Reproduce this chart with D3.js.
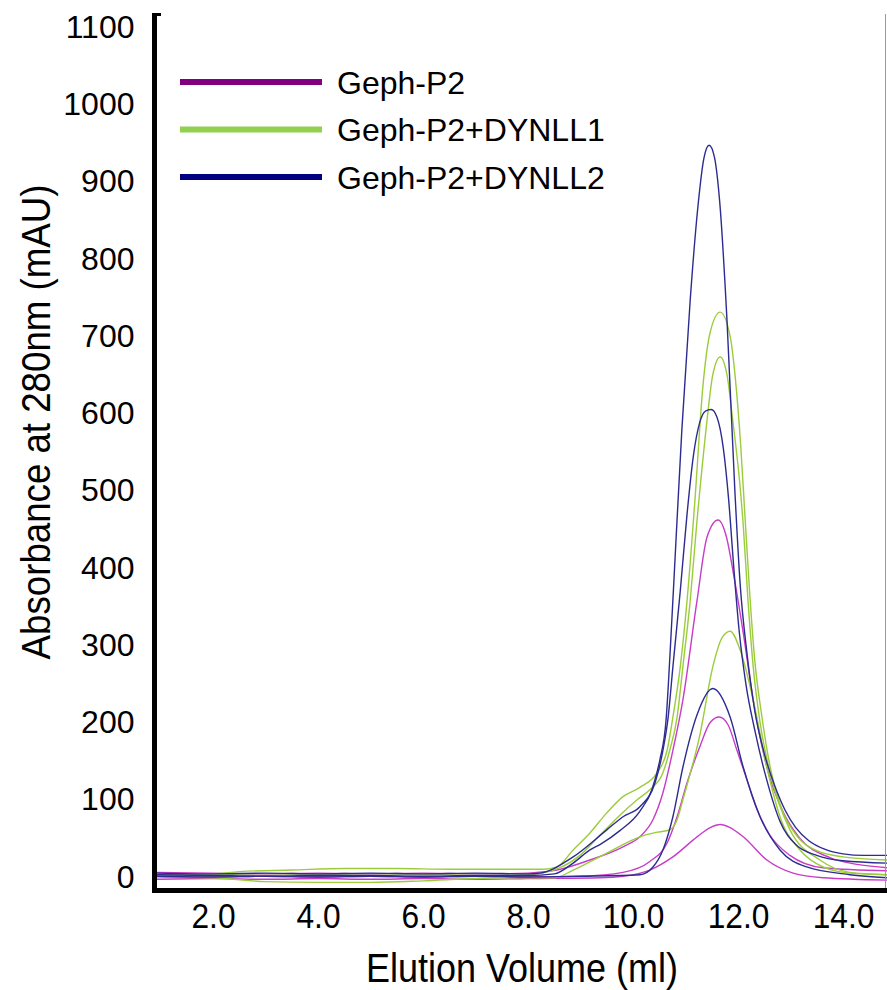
<!DOCTYPE html>
<html>
<head>
<meta charset="utf-8">
<script src="https://cdn.jsdelivr.net/npm/d3@7"></script>
<style>
  html, body { margin: 0; padding: 0; background: #ffffff; }
  svg { display: block; }
  text { font-family: "Liberation Sans", Arial, sans-serif; fill: #000; }
</style>
</head>
<body>
<svg id="chart" width="887" height="990"></svg>
<script>
// Size-exclusion chromatograms: absorbance at 280 nm vs elution volume.
// Each sample was run at three loadings, giving three traces per sample.

const seriesNames = ["Geph-P2", "Geph-P2+DYNLL1", "Geph-P2+DYNLL2"];
const xTicks = [2, 4, 6, 8, 10, 12, 14];
const yTicks = [0, 100, 200, 300, 400, 500, 600, 700, 800, 900, 1000, 1100];

// [elution volume (ml), absorbance (mAU)]
const gephP2High = [
  [0.9, 6], [2, 5], [3, 4], [4, 5], [5, 4], [6, 5], [7, 4], [8, 5], [8.55, 9],
  [9.18, 22], [9.81, 39], [10.13, 52], [10.38, 74], [10.57, 109], [10.76, 164],
  [10.95, 229], [11.22, 358], [11.41, 440], [11.62, 462], [11.78, 440], [11.92, 390],
  [12.1, 316], [12.29, 229], [12.55, 142], [12.86, 84], [13.18, 50], [13.75, 25],
  [14.3, 16], [14.84, 12]
];
const gephP2Mid = [
  [0.9, 1], [2, 0], [3, 1], [4, 0], [5, 1], [6, 0], [7, 1], [8, 0], [9, 1],
  [9.81, 6], [10.32, 20], [10.65, 44], [10.84, 78], [11.03, 122], [11.28, 170],
  [11.47, 200], [11.64, 207], [11.81, 197], [11.98, 164], [12.17, 126], [12.36, 88],
  [12.6, 55], [12.99, 28], [13.62, 12], [14.84, 8]
];
const gephP2Low = [
  [0.9, -3], [2, -2], [3, -3], [4, -2], [5, -3], [6, -2], [7, -3], [8, -2], [9.37, -1],
  [9.81, 1], [10.32, 9], [10.76, 26], [11.22, 52], [11.47, 64], [11.66, 68], [11.85, 64],
  [12.1, 52], [12.55, 22], [13.05, 5], [13.62, -1], [14.84, -4]
];

const dynll1High = [
  [0.9, 3], [2, 4], [2.5, 7], [3.5, 9], [4.5, 11], [5.5, 11], [6.5, 10], [7.5, 10], [8.3, 10],
  [8.55, 13], [8.86, 35], [9.18, 57], [9.5, 83], [9.81, 104], [10.13, 116], [10.46, 135],
  [10.65, 164], [10.76, 207], [10.9, 272], [11.03, 358], [11.18, 488], [11.33, 634],
  [11.47, 705], [11.66, 731], [11.85, 700], [11.95, 645], [12.05, 560], [12.13, 470],
  [12.22, 370], [12.32, 280], [12.45, 210], [12.62, 140], [12.82, 90], [13.1, 55],
  [13.5, 34], [14.0, 26], [14.84, 22]
];
const dynll1Mid = [
  [0.9, 2], [2, 3], [3, 2], [4, 3], [5, 2], [6, 3], [7, 2], [8, 3], [8.61, 12],
  [8.99, 28], [9.37, 54], [9.75, 80], [10.08, 100], [10.32, 113], [10.57, 135],
  [10.7, 164], [10.84, 207], [10.95, 272], [11.09, 358], [11.22, 462], [11.28, 505],
  [11.41, 591], [11.52, 650], [11.66, 673], [11.79, 650], [11.9, 591], [12.04, 505],
  [12.1, 455], [12.19, 358], [12.29, 272], [12.42, 200], [12.61, 135], [12.99, 61],
  [13.56, 22], [14.13, 6], [14.84, 3]
];
const dynll1Low = [
  [0.9, 0], [2, -1], [3, -6], [4, -7], [5, -7], [6, -5], [7, -2], [8, -1], [8.51, -1],
  [8.86, 9], [9.5, 31], [10.13, 52], [10.46, 58], [10.7, 61], [10.84, 74], [10.95, 100],
  [11.28, 186], [11.52, 272], [11.7, 310], [11.85, 318], [12.04, 294], [12.29, 229],
  [12.55, 142], [12.8, 78], [13.18, 35], [13.62, 13], [14.13, 5], [14.84, 3]
];

const dynll2High = [
  [0.9, 3], [2, 2], [3, 1], [4, 2], [5, 2], [6, 1], [7, 2], [8, 2], [8.5, 4],
  [8.86, 18], [9.18, 35], [9.37, 42], [9.75, 60], [10.13, 85], [10.36, 113], [10.51, 151],
  [10.63, 203], [10.72, 307], [10.82, 437], [10.93, 578], [11.09, 747], [11.24, 870],
  [11.35, 930], [11.45, 947], [11.55, 932], [11.65, 875], [11.79, 721], [11.94, 500],
  [12.04, 380], [12.17, 290], [12.32, 215], [12.5, 160], [12.7, 118], [12.9, 86],
  [13.1, 64], [13.35, 47], [13.65, 36], [14.0, 30], [14.4, 28], [14.84, 28]
];
const dynll2Mid = [
  [0.9, 5], [2, 4], [3, 5], [4, 4], [5, 5], [6, 4], [7, 5], [8, 4], [8.23, 5],
  [8.86, 26], [9.5, 61], [9.81, 78], [10.13, 91], [10.42, 122], [10.57, 164], [10.67, 207],
  [10.76, 272], [10.9, 370], [11.03, 470], [11.15, 545], [11.27, 588], [11.38, 603],
  [11.49, 605], [11.6, 595], [11.72, 555], [11.82, 490], [11.92, 400], [12.02, 320],
  [12.15, 250], [12.32, 190], [12.55, 125], [12.8, 72], [13.1, 42], [13.5, 28],
  [14.0, 21], [14.84, 18]
];
const dynll2Low = [
  [0.9, 1], [2, 0], [3, 1], [4, 0], [5, 1], [6, 0], [7, 1], [8, 0], [9, 1], [10.13, 3],
  [10.38, 13], [10.57, 35], [10.76, 78], [10.95, 142], [11.22, 210], [11.52, 244],
  [11.85, 207], [12.1, 142], [12.42, 78], [12.8, 35], [13.31, 13], [14.13, 3], [14.84, -1]
];

const traces = [
  { series: 0, values: gephP2High }, { series: 0, values: gephP2Mid }, { series: 0, values: gephP2Low },
  { series: 1, values: dynll1High }, { series: 1, values: dynll1Mid }, { series: 1, values: dynll1Low },
  { series: 2, values: dynll2High }, { series: 2, values: dynll2Mid }, { series: 2, values: dynll2Low }
];

// legend swatch colours and the (lighter, thin) trace colours
const legendColors = ["#800080", "#92d050", "#000080"];
const traceColors = ["#c83cc8", "#9ccc3c", "#2c2c90"];

const svg = d3.select("#chart");

const plot = { left: 157, right: 887, top: 13, bottom: 888 };

const x = d3.scaleLinear().domain([2, 14]).range([213, 843]);
const y = d3.scaleLinear().domain([0, 1100]).range([877, 27]);

svg.append("defs").append("clipPath").attr("id", "plot-clip")
  .append("rect")
  .attr("x", plot.left).attr("y", plot.top)
  .attr("width", plot.right - plot.left).attr("height", plot.bottom - plot.top);

const line = d3.line()
  .x(d => x(d[0]))
  .y(d => y(d[1]))
  .curve(d3.curveMonotoneX);

svg.append("g").attr("clip-path", "url(#plot-clip)")
  .selectAll("path")
  .data(traces)
  .join("path")
  .attr("d", d => line(d.values))
  .attr("fill", "none")
  .attr("stroke", d => traceColors[d.series])
  .attr("stroke-width", 1.4)
  .attr("stroke-linejoin", "round");

// frame: heavy left and bottom axis lines, light right edge
svg.append("line")
  .attr("x1", 885.5).attr("x2", 885.5).attr("y1", 14).attr("y2", 888)
  .attr("stroke", "#9a9a9a").attr("stroke-width", 1);
svg.append("line")
  .attr("x1", 154.5).attr("x2", 154.5).attr("y1", 13).attr("y2", 893)
  .attr("stroke", "#000").attr("stroke-width", 5);
svg.append("line")
  .attr("x1", 152).attr("x2", 161).attr("y1", 14.5).attr("y2", 14.5)
  .attr("stroke", "#000").attr("stroke-width", 3);
svg.append("line")
  .attr("x1", 152).attr("x2", 887).attr("y1", 890.5).attr("y2", 890.5)
  .attr("stroke", "#000").attr("stroke-width", 5);

// y axis labels
const yAxis = svg.append("g")
  .attr("transform", "translate(154.5,0)")
  .call(d3.axisLeft(y).tickValues(yTicks).tickFormat(d3.format("d"))
    .tickSize(0).tickPadding(20));
yAxis.select(".domain").remove();
yAxis.selectAll("text")
  .style("font-family", '"Liberation Sans", Arial, sans-serif')
  .style("font-size", "32px")
  .attr("fill", "#000");

// x axis labels (slightly condensed)
const xAxis = svg.append("g")
  .attr("transform", "translate(0,890)")
  .call(d3.axisBottom(x).tickValues(xTicks).tickFormat(d3.format(".1f"))
    .tickSize(0).tickPadding(12));
xAxis.select(".domain").remove();
xAxis.selectAll("text")
  .style("font-family", '"Liberation Sans", Arial, sans-serif')
  .style("font-size", "36px")
  .attr("fill", "#000")
  .attr("transform", "scale(0.88,1)");

// axis titles (condensed)
svg.append("text")
  .attr("transform", "translate(522,982) scale(0.9,1)")
  .attr("text-anchor", "middle")
  .style("font-size", "40px")
  .text("Elution Volume (ml)");

svg.append("text")
  .attr("transform", "translate(50,422) rotate(-90) scale(0.917,1)")
  .attr("text-anchor", "middle")
  .style("font-size", "40px")
  .text("Absorbance at 280nm (mAU)");

// legend
const legendRowY = d => 82 + d * 47.5;
const legend = svg.append("g");
legend.selectAll("line")
  .data(seriesNames)
  .join("line")
  .attr("x1", 180).attr("x2", 322)
  .attr("y1", (d, i) => legendRowY(i)).attr("y2", (d, i) => legendRowY(i))
  .attr("stroke", (d, i) => legendColors[i])
  .attr("stroke-width", 6);
legend.selectAll("text")
  .data(seriesNames)
  .join("text")
  .attr("x", 337)
  .attr("y", (d, i) => legendRowY(i) + 11.5)
  .style("font-size", "32px")
  .text(d => d);
</script>
</body>
</html>
